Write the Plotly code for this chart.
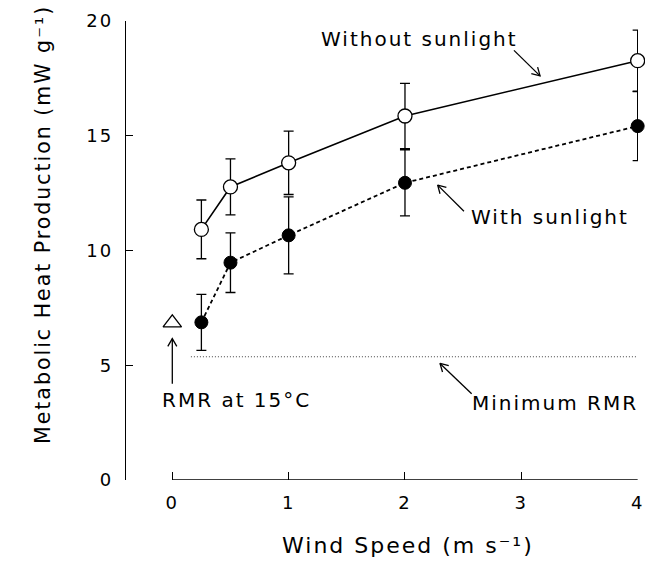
import math
import plotly.graph_objects as go

# ---- data ----
wind_speed = [0.25, 0.5, 1, 2, 4]
without_sun = [10.92, 12.77, 13.82, 15.86, 18.27]
without_sun_err = [1.28, 1.22, 1.38, 1.42, 1.33]
with_sun = [6.87, 9.47, 10.66, 12.95, 15.42]
with_sun_err = [1.22, 1.30, 1.68, 1.44, 1.50]
rmr15_x = [0]
rmr15_y = [6.85]
min_rmr_x = [0.16, 4.0]
min_rmr_y = [5.37, 5.37]
x_ticks = [0, 1, 2, 3, 4]
y_ticks = [0, 5, 10, 15, 20]

FONT = "DejaVu Sans"
BLACK = "#000000"

# layout geometry
W, H = 645, 562
ML, MR, MT, MB = 126, 7, 21, 82
X_RANGE = [-0.398, 4.003]
Y_RANGE = [0, 20]
SX = (W - ML - MR) / (X_RANGE[1] - X_RANGE[0])   # px per x unit
SY = (H - MT - MB) / (Y_RANGE[1] - Y_RANGE[0])   # px per y unit

fig = go.Figure()

# Minimum RMR dotted line
fig.add_trace(go.Scatter(
    x=min_rmr_x, y=min_rmr_y, mode="lines",
    line=dict(color="#444444", width=1, dash="1px,2px"),
    hoverinfo="skip", showlegend=False))

# With sunlight (filled circles, dotted line)
fig.add_trace(go.Scatter(
    x=wind_speed, y=with_sun, mode="lines+markers",
    line=dict(color=BLACK, width=1.8, dash="4px,3px"),
    marker=dict(symbol="circle", size=13, color=BLACK,
                line=dict(color=BLACK, width=1)),
    error_y=dict(type="data", array=with_sun_err, visible=True,
                 color=BLACK, thickness=1.3, width=5),
    cliponaxis=False, showlegend=False))

# Without sunlight (open circles, solid line)
fig.add_trace(go.Scatter(
    x=wind_speed, y=without_sun, mode="lines+markers",
    line=dict(color=BLACK, width=1.6),
    marker=dict(symbol="circle", size=14, color="white",
                line=dict(color=BLACK, width=1.3)),
    error_y=dict(type="data", array=without_sun_err, visible=True,
                 color=BLACK, thickness=1.3, width=5),
    cliponaxis=False, showlegend=False))

# RMR at 15 C (open triangle)
fig.add_trace(go.Scatter(
    x=rmr15_x, y=rmr15_y, mode="markers",
    marker=dict(symbol="triangle-up-open", size=16, color=BLACK,
                line=dict(color=BLACK, width=1.3)),
    cliponaxis=False, showlegend=False))

# x-axis baseline from 0 to 4
fig.add_shape(type="line", xref="x", yref="y", x0=x_ticks[0], x1=x_ticks[-1],
              y0=0, y1=0, line=dict(color=BLACK, width=1.3))

# ---- callout arrows (tail -> head), open V heads ----
arrows = [
    ((2.937, 18.72), (3.161, 17.61)),
    ((2.507, 11.71), (2.281, 12.85)),
    ((0.0, 4.19), (0.0, 6.16)),
    ((2.573, 3.76), (2.301, 5.08)),
]
ARM_PX, HALF_ANGLE = 9.0, math.radians(30)
ax_pts, ay_pts = [], []
for (tx, ty), (hx, hy) in arrows:
    dx, dy = (hx - tx) * SX, (hy - ty) * SY
    n = math.hypot(dx, dy)
    ux, uy = dx / n, dy / n
    ax_pts += [tx, hx, None]
    ay_pts += [ty, hy, None]
    arm = []
    for s in (1, -1):
        c, si = math.cos(s * HALF_ANGLE), math.sin(s * HALF_ANGLE)
        rx, ry = ux * c - uy * si, ux * si + uy * c
        arm.append((hx - ARM_PX * rx / SX, hy - ARM_PX * ry / SY))
    ax_pts += [arm[0][0], hx, arm[1][0], None]
    ay_pts += [arm[0][1], hy, arm[1][1], None]
fig.add_trace(go.Scatter(
    x=ax_pts, y=ay_pts, mode="lines",
    line=dict(color=BLACK, width=1.3), hoverinfo="skip",
    cliponaxis=False, showlegend=False))

text_font = dict(family=FONT, size=20, color=BLACK)

labels = [
    ("Without sunlight", 2.129, 19.21),
    ("With sunlight", 3.248, 11.46),
    ("RMR at 15°C", 0.552, 3.50),
    ("Minimum RMR", 3.287, 3.34),
]
for txt, lx, ly in labels:
    fig.add_annotation(x=lx, y=ly, xref="x", yref="y", text=txt,
                       showarrow=False, font=text_font,
                       xanchor="center", yanchor="middle")

# axis titles placed as paper annotations
fig.add_annotation(x=(408 - ML) / (W - ML - MR), y=-(545 - (H - MB)) / (H - MT - MB),
                   xref="paper", yref="paper",
                   text="Wind Speed (m s⁻¹)", showarrow=False,
                   font=dict(family=FONT, size=22, color=BLACK),
                   xanchor="center", yanchor="middle")
fig.add_annotation(x=-(ML - 43) / (W - ML - MR), y=((H - MB) - 225) / (H - MT - MB),
                   xref="paper", yref="paper", textangle=-90,
                   text="Metabolic Heat Production (mW g⁻¹)",
                   showarrow=False,
                   font=dict(family=FONT, size=20.5, color=BLACK),
                   xanchor="center", yanchor="middle")

fig.update_xaxes(
    range=X_RANGE, tickvals=x_ticks, ticktext=[str(v) for v in x_ticks],
    ticks="inside", ticklen=8, tickwidth=1.3, tickcolor=BLACK,
    showline=False, showgrid=False, zeroline=False,
    tickfont=dict(family=FONT, size=18, color=BLACK),
    ticklabelstandoff=10)

fig.update_yaxes(
    range=Y_RANGE, tickvals=y_ticks, ticktext=[str(v) for v in y_ticks],
    ticks="inside", ticklen=7, tickwidth=1.3, tickcolor=BLACK,
    showline=True, linecolor=BLACK, linewidth=1.3,
    showgrid=False, zeroline=False,
    tickfont=dict(family=FONT, size=18, color=BLACK),
    ticklabelstandoff=8)

fig.update_layout(
    width=W, height=H,
    margin=dict(l=ML, r=MR, t=MT, b=MB, autoexpand=False),
    paper_bgcolor="white", plot_bgcolor="white",
    showlegend=False)

post_js = (
    "var st=document.createElement('style');"
    "st.textContent='body{margin:0}.annotation-text,"
    ".xtick text,.ytick text{letter-spacing:2px}';"
    "document.head.appendChild(st);"
)

fig.write_html("out.html", post_script=post_js,
               config={"displayModeBar": False})
